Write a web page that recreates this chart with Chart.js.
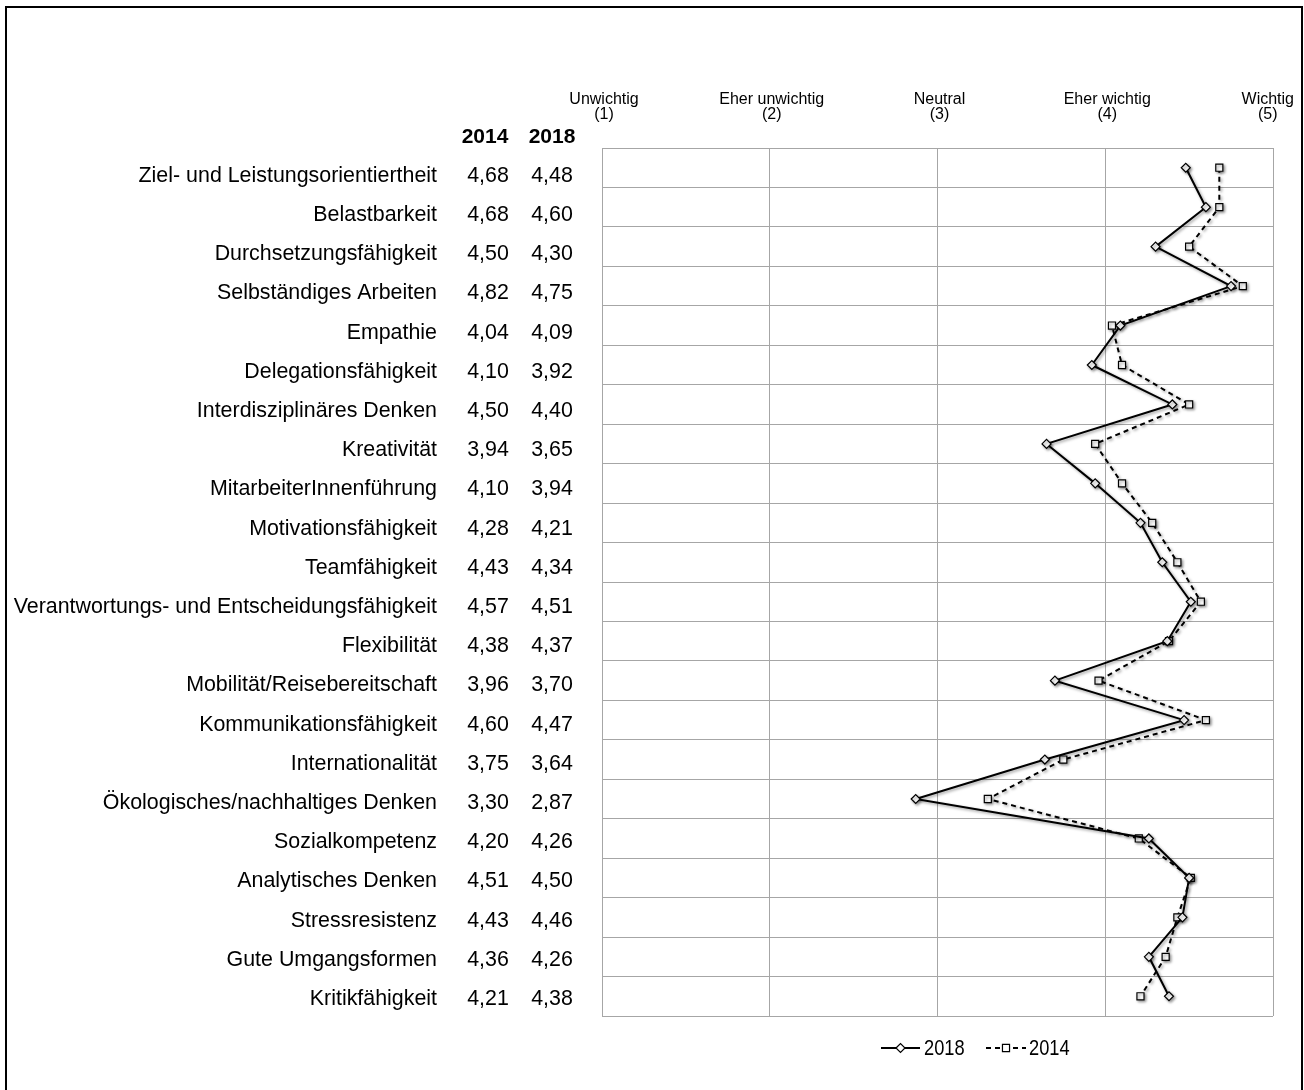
<!DOCTYPE html>
<html>
<head>
<meta charset="utf-8">
<script src="https://cdn.jsdelivr.net/npm/chart.js@4/dist/chart.umd.min.js"></script>
<style>
  html, body { margin: 0; padding: 0; width: 1304px; height: 1090px; overflow: hidden; background: #fff; }
  #frame { position: absolute; left: 5px; top: 6px; width: 1294px; height: 1200px; border: 2px solid #000; border-bottom: none; }
  #c { position: absolute; left: 0; top: 0; }
</style>
</head>
<body>
<div id="frame"></div>
<canvas id="c" width="1304" height="1090"></canvas>
<script>
const categories = [
  "Ziel- und Leistungsorientiertheit",
  "Belastbarkeit",
  "Durchsetzungsfähigkeit",
  "Selbständiges Arbeiten",
  "Empathie",
  "Delegationsfähigkeit",
  "Interdisziplinäres Denken",
  "Kreativität",
  "MitarbeiterInnenführung",
  "Motivationsfähigkeit",
  "Teamfähigkeit",
  "Verantwortungs- und Entscheidungsfähigkeit",
  "Flexibilität",
  "Mobilität/Reisebereitschaft",
  "Kommunikationsfähigkeit",
  "Internationalität",
  "Ökologisches/nachhaltiges Denken",
  "Sozialkompetenz",
  "Analytisches Denken",
  "Stressresistenz",
  "Gute Umgangsformen",
  "Kritikfähigkeit"
];
const values2014 = [4.68, 4.68, 4.50, 4.82, 4.04, 4.10, 4.50, 3.94, 4.10, 4.28, 4.43, 4.57, 4.38, 3.96, 4.60, 3.75, 3.30, 4.20, 4.51, 4.43, 4.36, 4.21];
const values2018 = [4.48, 4.60, 4.30, 4.75, 4.09, 3.92, 4.40, 3.65, 3.94, 4.21, 4.34, 4.51, 4.37, 3.70, 4.47, 3.64, 2.87, 4.26, 4.50, 4.46, 4.26, 4.38];
const scaleValues = [1, 2, 3, 4, 5];
const scaleLabels = ["Unwichtig", "Eher unwichtig", "Neutral", "Eher wichtig", "Wichtig"];
const columnHeaders = ["2014", "2018"];
const seriesNames = ["2018", "2014"];

const GRID = '#a6a6a6';
const LABEL_FONT = '21.4px "Liberation Sans", Arial, sans-serif';
const fmt = v => v.toFixed(2).replace('.', ',');

const shadowPlugin = {
  id: 'shadow',
  beforeDatasetsDraw(chart) {
    const ctx = chart.ctx;
    ctx.save();
    ctx.shadowColor = 'rgba(0,0,0,0.4)';
    ctx.shadowBlur = 3;
    ctx.shadowOffsetX = 1.5;
    ctx.shadowOffsetY = 1.5;
  },
  afterDatasetsDraw(chart) {
    chart.ctx.restore();
  }
};

const textPlugin = {
  id: 'texts',
  afterDraw(chart) {
    const ctx = chart.ctx;
    const ys = chart.scales.y, xs = chart.scales.x;
    ctx.save();
    ctx.fillStyle = '#000';
    // row labels and values
    ctx.font = LABEL_FONT;
    categories.forEach((name, i) => {
      const y = ys.getPixelForValue(i) + 14 - 0.25 * i;
      ctx.textAlign = 'right';
      ctx.textBaseline = 'alphabetic';
      ctx.fillText(name, 437, y);
      ctx.textAlign = 'center';
      ctx.fillText(fmt(values2014[i]), 488, y);
      ctx.fillText(fmt(values2018[i]), 552, y);
    });
    // column headers
    ctx.font = 'bold 21px "Liberation Sans", Arial, sans-serif';
    ctx.textAlign = 'center';
    ctx.fillText(columnHeaders[0], 485, 143);
    ctx.fillText(columnHeaders[1], 552, 143);
    // scale headers
    ctx.font = '16px "Liberation Sans", Arial, sans-serif';
    scaleValues.forEach((v, i) => {
      let x = xs.getPixelForValue(v);
      const w = ctx.measureText(scaleLabels[i]).width;
      if (x + w / 2 > 1292) x = 1292 - w / 2;
      ctx.fillText(scaleLabels[i], x + 2, 104);
      ctx.fillText('(' + v + ')', x + 2, 119);
    });
    // legend
    const ly = 1048;
    const items = [
      { ds: chart.data.datasets[0], x0: 881, x1: 920, tx: 924 },
      { ds: chart.data.datasets[1], x0: 986, x1: 1026, tx: 1029 }
    ];
    ctx.font = '22px "Liberation Sans Narrow", "Liberation Sans", Arial, sans-serif';
    ctx.textAlign = 'left';
    ctx.textBaseline = 'middle';
    items.forEach(it => {
      ctx.save();
      ctx.strokeStyle = '#000';
      ctx.lineWidth = 2;
      ctx.setLineDash(it.ds.borderDash || []);
      ctx.beginPath();
      ctx.moveTo(it.x0, ly);
      ctx.lineTo(it.x1, ly);
      ctx.stroke();
      ctx.setLineDash([]);
      ctx.fillStyle = '#fff';
      ctx.lineWidth = 1.2;
      Chart.helpers.drawPoint(ctx, { pointStyle: it.ds.pointStyle, radius: it.ds.pointRadius, rotation: 0, borderWidth: 1.2 }, (it.x0 + it.x1) / 2, ly);
      ctx.restore();
      ctx.save();
      ctx.fillStyle = '#000';
      ctx.translate(it.tx, ly + 1);
      ctx.scale(0.83, 1);
      ctx.fillText(it.ds.label, 0, 0);
      ctx.restore();
    });
    ctx.restore();
  }
};

new Chart(document.getElementById('c'), {
  type: 'line',
  data: {
    labels: categories,
    datasets: [
      {
        label: seriesNames[0],
        data: values2018,
        borderColor: '#000',
        borderWidth: 2,
        pointStyle: 'rectRot',
        pointRadius: 4.5,
        pointBackgroundColor: '#fff',
        pointBorderColor: '#000',
        pointBorderWidth: 1.2,
        tension: 0
      },
      {
        label: seriesNames[1],
        data: values2014,
        borderColor: '#000',
        borderWidth: 2,
        borderDash: [5, 4],
        pointStyle: 'rect',
        pointRadius: 5,
        pointBackgroundColor: '#fff',
        pointBorderColor: '#000',
        pointBorderWidth: 1.2,
        tension: 0
      }
    ]
  },
  options: {
    indexAxis: 'y',
    responsive: false,
    animation: false,
    devicePixelRatio: 1,
    layout: { padding: { left: 602, top: 148, right: 31, bottom: 74 } },
    plugins: { legend: { display: false }, tooltip: { enabled: false } },
    scales: {
      x: {
        type: 'linear', position: 'top', min: 1, max: 5,
        ticks: { display: false, stepSize: 1 },
        grid: { color: GRID, lineWidth: 1, drawTicks: false },
        border: { color: GRID, width: 1 }
      },
      y: {
        type: 'category', offset: true,
        ticks: { display: false },
        grid: { offset: true, color: GRID, lineWidth: 1, drawTicks: false },
        border: { color: GRID, width: 1 }
      }
    }
  },
  plugins: [shadowPlugin, textPlugin]
});
</script>
</body>
</html>
